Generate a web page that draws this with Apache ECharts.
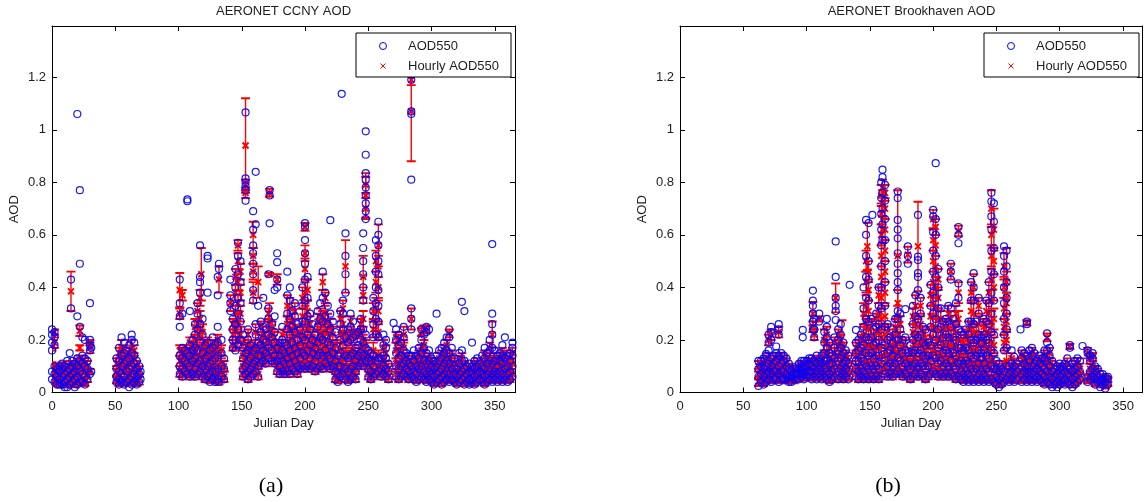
<!DOCTYPE html>
<html><head><meta charset="utf-8">
<script src="https://cdn.jsdelivr.net/npm/echarts@6/dist/echarts.min.js"></script>
<style>html,body{margin:0;padding:0;background:#fff}#c{width:1145px;height:502px}</style>
</head><body><div id="c"></div><script>
// ---------------- data ----------------
const panelTitles = ['AERONET CCNY AOD', 'AERONET Brookhaven AOD'];
const panelCaptions = ['(a)', '(b)'];
const seriesNames = ['AOD550', 'Hourly AOD550'];
const xAxisName = 'Julian Day';
const yAxisName = 'AOD';
const xMaxDays = [366, 365];

// observations: [day, aod, aod, ...]
const ccnyAOD = [
[0,0.05,0.08,0.16,0.19,0.22,0.24],[2,0.04,0.07,0.10,0.18,0.21,0.23],[4,0.03,0.06,0.09],[6,0.03,0.05,0.08,0.10],
[8,0.03,0.06,0.09,0.11],[10,0.02,0.04,0.07,0.10],[12,0.02,0.05,0.08,0.12],[14,0.03,0.06,0.09,0.15],[15,0.32,0.43],
[16,0.04,0.07,0.10,0.12],[18,0.02,0.05,0.08,0.11],[20,0.03,0.06,0.10,0.13,0.29,1.06],[22,0.04,0.08,0.12,0.25,0.77,0.49],
[24,0.04,0.07,0.11,0.14,0.21],[26,0.03,0.06,0.10,0.13,0.20],[28,0.05,0.09,0.12],[30,0.07,0.16,0.18,0.20,0.34],[31,0.08,0.17],
[51,0.04,0.06,0.09,0.13],[53,0.03,0.05,0.08,0.12,0.17],[55,0.04,0.07,0.10,0.14,0.21],[57,0.03,0.06,0.11,0.15,0.19],
[59,0.04,0.08,0.12,0.16],[61,0.02,0.05,0.09,0.13,0.18],[63,0.03,0.06,0.10,0.15,0.20,0.22],[65,0.04,0.07,0.11,0.14,0.19],
[67,0.03,0.06,0.09,0.12],[69,0.04,0.07,0.10],[70,0.05,0.08],
[101,0.07,0.10,0.14,0.25,0.29,0.34,0.43],[103,0.06,0.09,0.13,0.17,0.30],[105,0.08,0.12,0.16],[107,0.07,0.11,0.15,0.728,0.735],
[109,0.06,0.10,0.14,0.18,0.31],[111,0.07,0.12,0.16,0.20],[113,0.06,0.09,0.13,0.17,0.22,0.26],[115,0.07,0.11,0.16,0.24,0.30,0.34],
[117,0.08,0.12,0.19,0.26,0.38,0.42,0.44,0.56],[119,0.06,0.10,0.15,0.22,0.28],[121,0.05,0.09,0.13,0.18],
[123,0.06,0.10,0.14,0.19,0.51,0.52,0.38],[125,0.04,0.07,0.11,0.16],[127,0.05,0.08,0.12,0.17,0.21],[129,0.04,0.08,0.13,0.18],
[131,0.05,0.09,0.14,0.19,0.25,0.37,0.44],[132,0.47,0.49,0.04],[134,0.06,0.10,0.15,0.20],[136,0.05,0.09,0.13],
[141,0.31,0.34,0.37,0.43],[143,0.17,0.20,0.24,0.28],[145,0.16,0.20,0.26,0.33,0.40,0.47],[147,0.18,0.24,0.30,0.36,0.45,0.52,0.57],
[149,0.20,0.27,0.34,0.42,0.50],[151,0.06,0.09,0.13,0.17,0.22],[153,0.07,0.10,0.15,0.73,0.77,0.785,0.80,0.815,1.066],
[155,0.05,0.08,0.12,0.16,0.20,0.24],[157,0.06,0.09,0.13,0.18],[159,0.07,0.11,0.16,0.35,0.39,0.45,0.49,0.53,0.56,0.62,0.69],
[161,0.08,0.12,0.17,0.22,0.26,0.64,0.84],[163,0.06,0.10,0.14,0.19,0.33],[165,0.11,0.14,0.18,0.23,0.27],[167,0.12,0.16,0.20,0.25,0.36],
[169,0.11,0.15,0.19,0.24],[171,0.13,0.17,0.22,0.28,0.32,0.45],[172,0.644,0.75,0.77],[174,0.12,0.16,0.21,0.26],
[176,0.11,0.14,0.19,0.23,0.29,0.39],[178,0.08,0.12,0.17,0.40,0.43,0.496,0.53],[180,0.07,0.10,0.14,0.19],[182,0.08,0.12,0.16,0.20,0.25],
[184,0.07,0.11,0.15,0.19],[186,0.08,0.13,0.18,0.24,0.30,0.37,0.46],[188,0.07,0.11,0.16,0.22,0.28,0.35,0.40],[190,0.09,0.14,0.19,0.25,0.31],
[192,0.08,0.12,0.17,0.23,0.29,0.34],[194,0.07,0.10,0.15,0.20,0.26],[196,0.09,0.13,0.18,0.24],[198,0.10,0.15,0.21,0.27,0.33,0.40],
[200,0.09,0.14,0.20,0.27,0.35,0.43,0.49,0.53,0.58,0.63,0.645],[202,0.10,0.16,0.22,0.29,0.36,0.44],[204,0.09,0.13,0.18,0.24,0.30],
[206,0.10,0.15,0.20,0.26],[208,0.08,0.12,0.17,0.22],[210,0.09,0.14,0.19,0.25,0.31],[212,0.10,0.15,0.21,0.28,0.34],
[214,0.09,0.14,0.20,0.27,0.36,0.46],[216,0.11,0.16,0.22,0.29,0.38],[218,0.10,0.14,0.19,0.26,0.33],[220,0.09,0.13,0.18,0.24,0.30,0.656],
[222,0.10,0.15,0.21,0.27],[224,0.05,0.08,0.12,0.17,0.23],[226,0.04,0.07,0.10,0.14],[228,0.06,0.10,0.15,0.20,0.26,0.31],[229,1.137],
[230,0.07,0.12,0.18,0.24,0.30,0.35],[232,0.05,0.09,0.14,0.21,0.38,0.45,0.52,0.606],[234,0.04,0.08,0.13,0.19,0.24],
[236,0.05,0.09,0.14,0.20,0.25,0.30],[238,0.06,0.10,0.15,0.21,0.27],[240,0.05,0.08,0.12,0.17,0.22],[242,0.10,0.14,0.18,0.23],
[244,0.11,0.15,0.20,0.24,0.28],[246,0.10,0.14,0.19,0.24,0.35,0.40,0.45,0.50,0.55,0.606],
[248,0.12,0.17,0.22,0.66,0.69,0.72,0.75,0.78,0.81,0.835,0.905,0.994],[250,0.06,0.09,0.13,0.16],[252,0.05,0.08,0.12,0.15],
[254,0.06,0.10,0.14,0.21,0.26,0.31,0.36],[256,0.07,0.12,0.22,0.28,0.34,0.40,0.46,0.52,0.58],
[258,0.08,0.13,0.21,0.27,0.33,0.39,0.45,0.50,0.56,0.60,0.65],[260,0.06,0.09,0.13],[262,0.07,0.10,0.14,0.18,0.22],
[264,0.06,0.09,0.13,0.17,0.20],[266,0.05,0.08,0.11],[270,0.265],[272,0.06,0.10,0.15,0.20,0.24],[274,0.05,0.09,0.13,0.18,0.22],
[276,0.06,0.10,0.14,0.19],[278,0.07,0.11,0.16,0.21,0.25],[280,0.06,0.09,0.12,0.15],[282,0.05,0.08,0.11,0.14],
[284,0.06,0.10,0.14,0.24,0.28,0.32,0.81,1.06,1.07,1.19,1.21],[286,0.05,0.08,0.12,0.16],[288,0.04,0.07,0.10,0.14],
[290,0.05,0.09,0.13,0.17],[292,0.06,0.10,0.15,0.20,0.24],[294,0.05,0.08,0.12,0.17,0.22],[296,0.04,0.07,0.11,0.15,0.23,0.25],
[298,0.05,0.08,0.12,0.16,0.24],[300,0.04,0.07,0.10,0.13],[302,0.03,0.06,0.09,0.12],[304,0.04,0.07,0.10,0.14,0.30],
[306,0.05,0.08,0.12,0.16],[308,0.03,0.06,0.09,0.13,0.17],[310,0.04,0.07,0.11,0.15,0.19],[312,0.05,0.08,0.12,0.16,0.21],
[314,0.04,0.07,0.11,0.15,0.21,0.24],[316,0.05,0.09,0.13,0.17],[318,0.04,0.07,0.10,0.13],[320,0.03,0.06,0.09],
[322,0.04,0.07,0.11,0.15],[324,0.05,0.08,0.12,0.16,0.345],[326,0.03,0.06,0.09,0.12,0.31],[328,0.04,0.07,0.10],
[330,0.03,0.05,0.08,0.11],[332,0.04,0.07,0.10,0.19],[334,0.03,0.06,0.09,0.12],[336,0.04,0.07,0.10,0.13],[338,0.05,0.08,0.11],
[340,0.04,0.07,0.10,0.14],[342,0.03,0.06,0.09,0.13,0.17],[344,0.04,0.07,0.11,0.15],[346,0.05,0.08,0.12,0.16,0.20],
[348,0.04,0.07,0.11,0.17,0.22,0.26,0.30,0.565],[350,0.05,0.08,0.12,0.16],[352,0.04,0.07,0.10,0.14],[354,0.05,0.08,0.12,0.15],
[356,0.04,0.07,0.11,0.14,0.18],[358,0.05,0.09,0.13,0.21],[360,0.04,0.07,0.10,0.14],[362,0.05,0.08,0.12,0.15],[364,0.06,0.10,0.14,0.17,0.19]
];

// hourly means with error: [day, mean, err, mean, err, ...]
const ccnyHourly = [
[0,0.04,0.015,0.07,0.02,0.10,0.015,0.18,0.02,0.22,0.02],[2,0.05,0.02,0.08,0.02,0.19,0.02,0.23,0.01],[4,0.04,0.015,0.07,0.02,0.10,0.01],
[6,0.03,0.01,0.06,0.02,0.09,0.015],[8,0.04,0.015,0.07,0.02,0.10,0.015],[10,0.03,0.01,0.05,0.02,0.08,0.02],
[12,0.03,0.01,0.06,0.02,0.09,0.02],[14,0.04,0.015,0.07,0.02,0.10,0.02],[15,0.385,0.075],[16,0.04,0.015,0.08,0.02,0.11,0.01],
[18,0.03,0.01,0.06,0.02,0.09,0.02],[20,0.04,0.015,0.07,0.02,0.11,0.02],[22,0.05,0.02,0.09,0.02,0.12,0.02,0.17,0.01,0.235,0.02],
[24,0.05,0.02,0.08,0.02,0.12,0.02],[26,0.04,0.015,0.08,0.02,0.11,0.02],[28,0.06,0.02,0.10,0.02],[30,0.08,0.01,0.17,0.02,0.19,0.01],
[51,0.05,0.015,0.08,0.02,0.11,0.02],[53,0.04,0.015,0.07,0.02,0.11,0.02,0.15,0.02],[55,0.05,0.02,0.09,0.02,0.13,0.02,0.17,0.03],
[57,0.04,0.015,0.08,0.02,0.12,0.02,0.16,0.02],[59,0.05,0.02,0.09,0.02,0.13,0.02],[61,0.04,0.015,0.07,0.02,0.11,0.02,0.15,0.02],
[63,0.04,0.015,0.08,0.02,0.12,0.02,0.17,0.03],[65,0.05,0.02,0.09,0.02,0.13,0.02,0.16,0.02],[67,0.04,0.015,0.07,0.02,0.10,0.02],
[69,0.05,0.02,0.08,0.02],
[101,0.08,0.02,0.12,0.02,0.16,0.02,0.30,0.02,0.39,0.065],[103,0.07,0.02,0.11,0.02,0.15,0.02,0.37,0.02],[105,0.09,0.02,0.13,0.02,0.16,0.02],
[107,0.08,0.02,0.12,0.02,0.15,0.02],[109,0.07,0.02,0.11,0.02,0.15,0.02,0.19,0.02],[111,0.08,0.02,0.12,0.02,0.17,0.02],
[113,0.07,0.02,0.11,0.02,0.15,0.02,0.20,0.02,0.25,0.03],[115,0.08,0.02,0.12,0.02,0.17,0.03,0.24,0.03,0.31,0.03],
[117,0.09,0.02,0.14,0.03,0.21,0.03,0.28,0.03,0.36,0.03],[118,0.45,0.10],[119,0.07,0.02,0.11,0.02,0.16,0.03,0.23,0.03],
[121,0.06,0.02,0.10,0.02,0.14,0.02,0.18,0.02],[123,0.07,0.02,0.11,0.02,0.15,0.02,0.19,0.02],[125,0.05,0.015,0.08,0.02,0.12,0.02,0.16,0.02],
[127,0.06,0.02,0.09,0.02,0.13,0.02,0.18,0.02],[129,0.05,0.015,0.09,0.02,0.14,0.02,0.18,0.02],[131,0.06,0.02,0.10,0.02,0.15,0.02,0.20,0.02],
[132,0.43,0.05,0.04,0.01],[134,0.07,0.02,0.11,0.02,0.16,0.02],[136,0.06,0.02,0.10,0.02],[141,0.34,0.03],
[143,0.18,0.02,0.22,0.02,0.26,0.02],[145,0.18,0.02,0.23,0.03,0.30,0.03,0.38,0.03,0.44,0.03],
[147,0.20,0.03,0.27,0.03,0.34,0.03,0.42,0.03,0.50,0.03,0.56,0.02],[149,0.22,0.03,0.30,0.03,0.38,0.03,0.46,0.03],
[151,0.07,0.02,0.10,0.02,0.14,0.02,0.19,0.02],[153,0.08,0.02,0.12,0.02,0.16,0.02,0.76,0.02,0.79,0.02,0.94,0.18],
[155,0.06,0.02,0.09,0.02,0.13,0.02,0.18,0.02,0.22,0.02],[157,0.07,0.02,0.10,0.02,0.14,0.02,0.17,0.02],
[159,0.08,0.02,0.12,0.02,0.16,0.02,0.38,0.04,0.46,0.03,0.52,0.03,0.60,0.05],[161,0.09,0.02,0.13,0.02,0.18,0.02,0.23,0.03],
[163,0.07,0.02,0.11,0.02,0.15,0.02,0.42,0.06],[165,0.12,0.02,0.16,0.02,0.20,0.02,0.25,0.02],[167,0.13,0.02,0.17,0.02,0.22,0.03],
[169,0.12,0.02,0.16,0.02,0.21,0.02],[171,0.14,0.02,0.19,0.02,0.24,0.03,0.30,0.02],[172,0.76,0.015,0.45,0.005,0.27,0.07],
[174,0.13,0.02,0.17,0.02,0.22,0.02,0.25,0.02],[176,0.12,0.02,0.16,0.02,0.21,0.02],[178,0.09,0.02,0.13,0.02,0.17,0.02,0.43,0.02],
[180,0.08,0.02,0.11,0.02,0.15,0.02,0.18,0.02],[182,0.09,0.02,0.13,0.02,0.17,0.02,0.22,0.02],[184,0.08,0.02,0.12,0.02,0.16,0.02],
[186,0.09,0.02,0.14,0.02,0.19,0.03,0.26,0.03,0.33,0.04],[188,0.08,0.02,0.12,0.02,0.17,0.03,0.24,0.03,0.32,0.04],
[190,0.10,0.02,0.15,0.02,0.20,0.03,0.27,0.03],[192,0.09,0.02,0.13,0.02,0.18,0.03,0.25,0.03,0.31,0.03],
[194,0.08,0.02,0.11,0.02,0.16,0.02,0.22,0.03],[196,0.10,0.02,0.14,0.02,0.19,0.02,0.23,0.02],
[198,0.11,0.02,0.16,0.03,0.22,0.03,0.29,0.03,0.36,0.04],
[200,0.10,0.02,0.15,0.03,0.21,0.03,0.29,0.04,0.38,0.04,0.47,0.04,0.53,0.03,0.63,0.015],
[202,0.11,0.02,0.17,0.03,0.24,0.03,0.31,0.04,0.39,0.04],[204,0.10,0.02,0.14,0.02,0.19,0.03,0.26,0.03],[206,0.11,0.02,0.16,0.02,0.21,0.03],
[208,0.09,0.02,0.13,0.02,0.18,0.02],[210,0.10,0.02,0.15,0.02,0.20,0.03,0.27,0.03],[212,0.11,0.02,0.16,0.03,0.22,0.03,0.29,0.03],
[214,0.10,0.02,0.15,0.03,0.21,0.03,0.28,0.03,0.42,0.03],[216,0.12,0.02,0.17,0.03,0.23,0.03,0.30,0.03,0.36,0.02],
[218,0.11,0.02,0.15,0.02,0.20,0.03,0.27,0.03],[220,0.10,0.02,0.14,0.02,0.19,0.03,0.25,0.03],[222,0.11,0.02,0.16,0.02,0.22,0.03],
[224,0.06,0.02,0.09,0.02,0.13,0.02,0.18,0.02],[226,0.05,0.015,0.08,0.02,0.11,0.02],[228,0.07,0.02,0.11,0.02,0.16,0.03,0.22,0.03,0.28,0.03],
[230,0.08,0.02,0.13,0.02,0.19,0.03,0.26,0.03,0.32,0.03],[232,0.06,0.02,0.10,0.02,0.15,0.02,0.22,0.015,0.48,0.10],
[234,0.05,0.015,0.09,0.02,0.14,0.02,0.20,0.02],[236,0.06,0.02,0.10,0.02,0.15,0.02,0.225,0.015,0.27,0.02],
[238,0.07,0.02,0.11,0.02,0.16,0.02,0.21,0.02],[240,0.06,0.02,0.09,0.02,0.13,0.02,0.225,0.015],[242,0.11,0.02,0.15,0.02,0.22,0.015],
[244,0.12,0.02,0.16,0.02,0.225,0.015,0.26,0.02],[246,0.11,0.02,0.15,0.02,0.20,0.02,0.28,0.03,0.37,0.03,0.44,0.08],
[248,0.13,0.02,0.18,0.02,0.70,0.04,0.75,0.085,0.79,0.03],[250,0.07,0.02,0.10,0.02,0.14,0.02],[252,0.06,0.02,0.09,0.02,0.13,0.02],
[254,0.07,0.02,0.11,0.02,0.16,0.03,0.24,0.03,0.31,0.03],[256,0.08,0.02,0.13,0.02,0.24,0.03,0.32,0.04,0.42,0.04,0.50,0.04],
[258,0.09,0.02,0.14,0.02,0.23,0.03,0.31,0.04,0.40,0.04,0.48,0.04,0.56,0.08],[260,0.07,0.02,0.10,0.02],
[262,0.08,0.02,0.12,0.02,0.17,0.03],[264,0.07,0.02,0.10,0.02,0.15,0.03],[266,0.06,0.02,0.09,0.02],
[272,0.07,0.02,0.11,0.02,0.16,0.03,0.21,0.02],[274,0.06,0.02,0.10,0.02,0.15,0.02,0.20,0.02],[276,0.07,0.02,0.11,0.02,0.16,0.02],
[278,0.08,0.02,0.12,0.02,0.17,0.03,0.22,0.03],[280,0.07,0.02,0.10,0.02,0.13,0.02],[282,0.06,0.02,0.09,0.02,0.12,0.02],
[284,0.07,0.02,0.11,0.02,0.28,0.04,1.07,0.19,1.19,0.02],[286,0.06,0.02,0.09,0.02,0.13,0.02],[288,0.05,0.015,0.08,0.02,0.12,0.02],
[290,0.06,0.02,0.10,0.02,0.14,0.02],[292,0.07,0.02,0.11,0.02,0.16,0.02,0.23,0.015],[294,0.06,0.02,0.09,0.02,0.13,0.02,0.18,0.02,0.24,0.015],
[296,0.05,0.015,0.08,0.02,0.12,0.02,0.24,0.015],[298,0.06,0.02,0.09,0.02,0.13,0.02],[300,0.05,0.015,0.08,0.02,0.11,0.02],
[302,0.04,0.015,0.07,0.02,0.10,0.02],[304,0.05,0.015,0.08,0.02,0.11,0.02],[306,0.06,0.02,0.09,0.02,0.13,0.02],
[308,0.04,0.015,0.07,0.02,0.10,0.02,0.14,0.02],[310,0.05,0.015,0.08,0.02,0.12,0.02,0.16,0.02],[312,0.06,0.02,0.09,0.02,0.13,0.02,0.18,0.02],
[314,0.05,0.015,0.08,0.02,0.12,0.02,0.225,0.015],[316,0.06,0.02,0.10,0.02,0.14,0.02],[318,0.05,0.015,0.08,0.02,0.11,0.02],
[320,0.04,0.015,0.07,0.02],[322,0.05,0.015,0.08,0.02,0.12,0.02],[324,0.06,0.02,0.09,0.02,0.13,0.02],[326,0.04,0.015,0.07,0.02,0.10,0.02],
[328,0.05,0.015,0.08,0.02],[330,0.04,0.015,0.06,0.02,0.09,0.02],[332,0.05,0.015,0.08,0.02],[334,0.04,0.015,0.07,0.02,0.10,0.02],
[336,0.05,0.015,0.08,0.02,0.11,0.02],[338,0.06,0.02,0.09,0.02],[340,0.05,0.015,0.08,0.02,0.11,0.02],
[342,0.04,0.015,0.07,0.02,0.10,0.02,0.14,0.02],[344,0.05,0.015,0.08,0.02,0.12,0.02],[346,0.06,0.02,0.09,0.02,0.13,0.02,0.17,0.02],
[348,0.05,0.015,0.08,0.02,0.12,0.02,0.22,0.05],[350,0.06,0.02,0.09,0.02,0.13,0.02],[352,0.05,0.015,0.08,0.02,0.11,0.02],
[354,0.06,0.02,0.09,0.02,0.13,0.02],[356,0.05,0.015,0.08,0.02,0.12,0.02,0.15,0.02],[358,0.06,0.02,0.10,0.02,0.14,0.02],
[360,0.05,0.015,0.08,0.02,0.11,0.02],[362,0.06,0.02,0.09,0.02,0.13,0.02],[364,0.07,0.02,0.11,0.02,0.15,0.02]
];

const bnlAOD = [
[62,0.025,0.06,0.09,0.12],[64,0.04,0.07,0.10,0.12],[66,0.03,0.06,0.09,0.13],[68,0.04,0.07,0.10,0.14,0.147],
[70,0.05,0.08,0.11,0.16,0.19,0.22],[72,0.04,0.07,0.10,0.13,0.20,0.23,0.25],[74,0.05,0.08,0.11,0.14],[76,0.05,0.08,0.12,0.15,0.175],
[78,0.04,0.07,0.10,0.14,0.22,0.24,0.26],[80,0.05,0.08,0.11,0.15],[82,0.05,0.08,0.12,0.14],[84,0.05,0.07,0.10,0.13],
[86,0.04,0.06,0.09,0.11],[88,0.04,0.06,0.08],[90,0.05,0.07,0.09],[92,0.05,0.07,0.09,0.10],[94,0.05,0.07,0.09,0.11],
[96,0.06,0.08,0.10,0.12],[97,0.21,0.238],[98,0.05,0.07,0.09,0.12],[100,0.06,0.08,0.10,0.12],[102,0.06,0.08,0.11,0.13],
[104,0.05,0.08,0.10,0.13],[105,0.24,0.27,0.30,0.33,0.35,0.388],[106,0.06,0.09,0.12,0.21,0.24,0.28],[108,0.05,0.08,0.11,0.14],
[110,0.06,0.09,0.12,0.27,0.30],[112,0.05,0.08,0.11,0.14],[114,0.06,0.09,0.12,0.15,0.19,0.23],[116,0.05,0.08,0.12,0.17,0.21,0.25,0.28],
[118,0.04,0.07,0.11,0.15,0.19],[120,0.05,0.08,0.11,0.14],[122,0.06,0.09,0.13,0.17,0.21],[123,0.276,0.31,0.33,0.36,0.44,0.575],
[125,0.05,0.08,0.12,0.16,0.20,0.24],[127,0.06,0.09,0.13,0.17,0.22,0.26],[129,0.05,0.08,0.11,0.15,0.19],[131,0.06,0.09,0.12,0.16],
[133,0.05,0.08,0.11,0.14],[134,0.41],[139,0.06,0.09,0.12,0.15,0.19,0.238],[141,0.05,0.08,0.12,0.16,0.20],[143,0.06,0.09,0.13,0.17,0.22],
[145,0.05,0.08,0.12,0.18,0.25,0.32,0.40],[147,0.06,0.10,0.15,0.21,0.28,0.36,0.44,0.52,0.60,0.657],
[149,0.05,0.09,0.14,0.20,0.27,0.35,0.43,0.50,0.645],[151,0.06,0.10,0.15,0.21,0.28],[152,0.676],[153,0.05,0.09,0.13,0.18,0.24],
[155,0.06,0.10,0.14,0.19,0.25,0.30],[157,0.05,0.09,0.14,0.20,0.26,0.33,0.40],
[159,0.06,0.11,0.17,0.24,0.32,0.40,0.48,0.56,0.62,0.68,0.74,0.80],[160,0.848,0.82,0.76,0.70,0.64,0.58],
[162,0.07,0.12,0.18,0.25,0.33,0.42,0.50,0.58,0.66,0.73,0.79],[164,0.06,0.10,0.15,0.20,0.26],[166,0.07,0.11,0.16,0.21],
[168,0.06,0.10,0.14,0.19,0.24],[170,0.07,0.11,0.16,0.22,0.28],
[172,0.08,0.13,0.20,0.28,0.31,0.39,0.42,0.454,0.49,0.53,0.587,0.62,0.657,0.74,0.765],[174,0.07,0.12,0.18,0.24,0.30],
[176,0.06,0.10,0.15,0.20],[178,0.07,0.11,0.16,0.21,0.317],[180,0.06,0.10,0.15,0.49,0.52,0.556],[182,0.05,0.09,0.13,0.18],
[184,0.06,0.10,0.15,0.20,0.26,0.33],[186,0.07,0.11,0.16,0.22,0.29,0.37],[188,0.06,0.10,0.15,0.21,0.28,0.39,0.44,0.454,0.504,0.517,0.676],
[190,0.07,0.11,0.16,0.22,0.30,0.36],[192,0.06,0.10,0.14,0.19,0.25],[194,0.05,0.09,0.13,0.18,0.24],[196,0.06,0.10,0.14,0.19],
[198,0.07,0.12,0.18,0.25,0.33,0.41],[200,0.08,0.14,0.22,0.30,0.38,0.46,0.54,0.61,0.67,0.695],
[202,0.07,0.13,0.20,0.28,0.36,0.44,0.52,0.60,0.66,0.873],[204,0.06,0.11,0.17,0.24,0.32,0.40,0.47],[206,0.07,0.12,0.18,0.25,0.32],
[208,0.06,0.10,0.15,0.21,0.27],[210,0.07,0.11,0.16,0.22,0.28],[212,0.06,0.10,0.15,0.21,0.27,0.33],[214,0.07,0.12,0.18,0.25,0.32,0.43,0.46,0.49],
[216,0.06,0.10,0.15,0.21,0.28],[218,0.05,0.09,0.14,0.20,0.26,0.34],[220,0.06,0.11,0.17,0.24,0.36,0.415,0.568,0.60,0.63],
[222,0.05,0.08,0.12,0.17,0.23],[224,0.04,0.07,0.11,0.16,0.22],[226,0.05,0.08,0.12,0.17,0.24],[228,0.04,0.07,0.11,0.16,0.22,0.27],
[230,0.05,0.09,0.14,0.20,0.27,0.35,0.42],[232,0.04,0.08,0.13,0.19,0.26,0.35,0.40,0.454],[234,0.05,0.09,0.14,0.20,0.27],
[236,0.04,0.07,0.11,0.16,0.22,0.30,0.36],[238,0.05,0.08,0.13,0.15,0.19,0.21],[240,0.04,0.07,0.11,0.16,0.22,0.28],
[242,0.05,0.09,0.14,0.20,0.27,0.35],[244,0.04,0.08,0.13,0.19,0.26,0.34,0.42],
[246,0.05,0.10,0.16,0.23,0.30,0.38,0.46,0.54,0.62,0.67,0.727,0.76],[248,0.04,0.09,0.15,0.22,0.35,0.45,0.55,0.65,0.72],
[250,0.03,0.06,0.09,0.12],[252,0.02,0.05,0.08,0.11],[254,0.03,0.06,0.09],[256,0.04,0.08,0.16,0.22,0.28,0.34,0.40,0.46,0.52,0.556],
[258,0.05,0.10,0.17,0.24,0.30,0.36,0.42,0.48,0.54],[260,0.04,0.07,0.10],[262,0.05,0.08,0.11,0.16],[264,0.04,0.07,0.10,0.136],
[266,0.05,0.08,0.11],[269,0.24],[270,0.04,0.07,0.10,0.13,0.16],[272,0.05,0.08,0.11,0.15],[274,0.04,0.07,0.10,0.14,0.26,0.27],
[276,0.05,0.08,0.12,0.16],[278,0.04,0.07,0.10,0.14,0.17],[280,0.05,0.08,0.11,0.15],[282,0.04,0.06,0.09,0.12],[284,0.05,0.08,0.11,0.14],
[286,0.04,0.07,0.10,0.13],[288,0.03,0.06,0.09,0.13,0.16],[290,0.04,0.08,0.12,0.16,0.19,0.225],[292,0.03,0.06,0.10,0.14,0.17],
[294,0.02,0.05,0.08,0.12],[296,0.03,0.06,0.09],[298,0.02,0.04,0.07,0.10],[300,0.03,0.06,0.09,0.11],[302,0.04,0.07,0.10],
[304,0.03,0.05,0.08,0.11],[306,0.04,0.07,0.10,0.13],[308,0.03,0.06,0.09,0.17,0.18],[310,0.02,0.05,0.08,0.11],[312,0.03,0.06,0.09,0.12],
[314,0.04,0.07,0.10,0.13],[316,0.05,0.08,0.12],[318,0.177],[322,0.04,0.06,0.15,0.16],[324,0.05,0.08,0.12,0.14],[326,0.06,0.09,0.13,0.15],
[328,0.03,0.05,0.08,0.10],[330,0.04,0.06,0.09],[332,0.02,0.04,0.07],[334,0.03,0.05,0.07],[336,0.015,0.04,0.06],[338,0.03,0.05,0.06]
];

const bnlHourly = [
[62,0.04,0.015,0.07,0.02,0.10,0.02],[64,0.05,0.015,0.08,0.02,0.11,0.01],[66,0.04,0.015,0.07,0.02,0.11,0.02],
[68,0.05,0.015,0.08,0.02,0.12,0.02],[70,0.06,0.02,0.09,0.02,0.13,0.02,0.20,0.02],[72,0.05,0.015,0.08,0.02,0.11,0.02,0.22,0.02],
[74,0.06,0.02,0.09,0.02,0.12,0.02],[76,0.06,0.02,0.09,0.02,0.13,0.02],[78,0.05,0.015,0.08,0.02,0.12,0.02,0.23,0.02],
[80,0.06,0.02,0.09,0.02,0.13,0.02],[82,0.06,0.02,0.09,0.02,0.12,0.02],[84,0.05,0.015,0.08,0.02,0.11,0.02],
[86,0.05,0.015,0.07,0.02,0.10,0.01],[88,0.05,0.015,0.07,0.015],[90,0.05,0.015,0.08,0.01],[92,0.06,0.015,0.08,0.015],
[94,0.06,0.015,0.09,0.015],[96,0.07,0.015,0.09,0.02,0.11,0.01],[98,0.06,0.015,0.08,0.02,0.11,0.01],[100,0.07,0.015,0.09,0.02,0.11,0.01],
[102,0.07,0.015,0.10,0.02,0.12,0.01],[104,0.06,0.015,0.09,0.02,0.12,0.01],[105,0.30,0.045,0.25,0.02],[106,0.07,0.02,0.10,0.02,0.22,0.02],
[108,0.06,0.015,0.09,0.02,0.12,0.02],[110,0.07,0.02,0.10,0.02,0.28,0.01],[112,0.06,0.015,0.09,0.02,0.12,0.02],
[114,0.07,0.02,0.10,0.02,0.14,0.02,0.20,0.04],[116,0.06,0.02,0.10,0.02,0.15,0.03,0.22,0.03],[118,0.05,0.015,0.09,0.02,0.13,0.02,0.17,0.02],
[120,0.06,0.015,0.09,0.02,0.12,0.02],[122,0.07,0.02,0.11,0.02,0.15,0.02,0.19,0.02],[123,0.36,0.055],
[125,0.06,0.02,0.10,0.02,0.14,0.02,0.18,0.02,0.22,0.02],[127,0.07,0.02,0.11,0.02,0.15,0.02,0.20,0.02],[128,0.18,0.095],
[129,0.06,0.02,0.10,0.02,0.13,0.02,0.17,0.02],[131,0.07,0.02,0.10,0.02,0.14,0.02],[133,0.06,0.015,0.09,0.02,0.12,0.02],
[139,0.07,0.02,0.10,0.02,0.14,0.02,0.17,0.02],[141,0.06,0.02,0.10,0.02,0.14,0.02,0.18,0.02],[143,0.07,0.02,0.11,0.02,0.15,0.02,0.20,0.02],
[145,0.06,0.02,0.10,0.02,0.15,0.03,0.22,0.03,0.30,0.04],[147,0.07,0.02,0.12,0.03,0.18,0.03,0.25,0.03,0.33,0.04,0.42,0.04,0.50,0.04],
[148,0.556,0.09],[149,0.06,0.02,0.11,0.03,0.17,0.03,0.24,0.03,0.31,0.04,0.39,0.04,0.46,0.04],
[151,0.07,0.02,0.12,0.02,0.18,0.03,0.25,0.03],[153,0.06,0.02,0.11,0.02,0.16,0.02,0.21,0.03],
[155,0.07,0.02,0.12,0.02,0.17,0.03,0.23,0.03,0.28,0.02],[157,0.06,0.02,0.11,0.02,0.17,0.03,0.23,0.03,0.30,0.04,0.37,0.03],
[159,0.08,0.02,0.14,0.03,0.21,0.03,0.28,0.04,0.36,0.04,0.44,0.04,0.52,0.04,0.60,0.04,0.68,0.04,0.75,0.04],
[160,0.62,0.05,0.72,0.05,0.78,0.03],
[162,0.09,0.02,0.15,0.03,0.22,0.04,0.29,0.04,0.38,0.04,0.46,0.04,0.54,0.04,0.62,0.04,0.70,0.04,0.76,0.03],
[164,0.07,0.02,0.12,0.02,0.17,0.03,0.23,0.03],[166,0.08,0.02,0.13,0.02,0.18,0.03],[168,0.07,0.02,0.12,0.02,0.16,0.02,0.21,0.03],
[170,0.08,0.02,0.13,0.02,0.19,0.03,0.25,0.03],[172,0.09,0.02,0.15,0.03,0.22,0.03,0.29,0.04,0.34,0.05,0.52,0.25],
[174,0.08,0.02,0.14,0.02,0.20,0.03,0.26,0.03],[176,0.07,0.02,0.12,0.02,0.17,0.03],[178,0.08,0.02,0.13,0.02,0.18,0.03],
[180,0.07,0.02,0.12,0.02,0.525,0.03],[182,0.06,0.02,0.10,0.02,0.15,0.02],[184,0.07,0.02,0.12,0.02,0.17,0.03,0.23,0.03,0.29,0.03],
[186,0.08,0.02,0.13,0.02,0.19,0.03,0.26,0.03,0.33,0.04],[188,0.07,0.02,0.12,0.02,0.18,0.03,0.25,0.03,0.556,0.17],
[190,0.08,0.02,0.13,0.02,0.19,0.03,0.26,0.03,0.33,0.03],[192,0.07,0.02,0.12,0.02,0.17,0.03,0.22,0.03],
[194,0.06,0.02,0.11,0.02,0.16,0.03,0.21,0.03],[196,0.07,0.02,0.12,0.02,0.17,0.02],[198,0.08,0.02,0.14,0.03,0.21,0.03,0.29,0.04,0.37,0.04],
[200,0.09,0.02,0.16,0.03,0.25,0.04,0.34,0.04,0.42,0.04,0.50,0.04,0.58,0.04,0.66,0.035],
[202,0.08,0.02,0.15,0.03,0.24,0.04,0.32,0.04,0.40,0.04,0.48,0.04,0.56,0.04,0.63,0.03],
[204,0.07,0.02,0.13,0.03,0.20,0.03,0.28,0.04,0.36,0.04,0.43,0.04],[206,0.08,0.02,0.14,0.03,0.21,0.03,0.28,0.03],
[208,0.07,0.02,0.12,0.02,0.18,0.03,0.24,0.03],[210,0.08,0.02,0.13,0.02,0.19,0.03,0.25,0.03],
[212,0.07,0.02,0.12,0.02,0.18,0.03,0.24,0.03,0.30,0.03],[214,0.08,0.02,0.14,0.03,0.21,0.03,0.28,0.03,0.46,0.03],
[216,0.07,0.02,0.12,0.02,0.18,0.03,0.24,0.03],[218,0.06,0.02,0.11,0.02,0.17,0.03,0.23,0.03,0.30,0.03],
[220,0.07,0.02,0.13,0.03,0.20,0.03,0.28,0.03,0.38,0.04,0.615,0.02],[222,0.06,0.02,0.10,0.02,0.14,0.02,0.20,0.03],
[224,0.05,0.015,0.09,0.02,0.13,0.02,0.19,0.03],[226,0.06,0.02,0.10,0.02,0.15,0.03,0.21,0.03],
[228,0.05,0.015,0.09,0.02,0.13,0.02,0.19,0.03,0.24,0.03],[230,0.06,0.02,0.11,0.02,0.17,0.03,0.24,0.03,0.31,0.04,0.38,0.04],
[232,0.05,0.015,0.10,0.02,0.16,0.03,0.22,0.03,0.30,0.04,0.40,0.05],[234,0.06,0.02,0.11,0.02,0.17,0.03,0.23,0.03],
[236,0.05,0.015,0.09,0.02,0.13,0.02,0.19,0.03,0.26,0.03,0.33,0.03],[238,0.06,0.02,0.10,0.02,0.18,0.03],
[240,0.05,0.015,0.09,0.02,0.13,0.02,0.19,0.03,0.25,0.03],[242,0.06,0.02,0.11,0.02,0.17,0.03,0.23,0.03,0.31,0.04],
[244,0.05,0.015,0.10,0.02,0.16,0.03,0.22,0.03,0.30,0.04,0.38,0.04],
[246,0.06,0.02,0.12,0.03,0.19,0.03,0.27,0.04,0.35,0.04,0.43,0.04,0.52,0.04,0.60,0.04,0.70,0.07],
[248,0.05,0.015,0.11,0.03,0.18,0.03,0.28,0.04,0.40,0.05,0.50,0.05,0.62,0.08],[250,0.04,0.015,0.07,0.02,0.10,0.02],
[252,0.03,0.01,0.06,0.02,0.09,0.02],[254,0.04,0.015,0.07,0.02],[256,0.05,0.015,0.10,0.02,0.19,0.03,0.25,0.03,0.32,0.04,0.40,0.04,0.48,0.05],
[258,0.06,0.02,0.12,0.03,0.20,0.03,0.27,0.03,0.34,0.04,0.42,0.04,0.36,0.19],[260,0.05,0.015,0.08,0.02],
[262,0.06,0.02,0.09,0.02,0.13,0.02],[264,0.05,0.015,0.08,0.02,0.11,0.02],[266,0.06,0.02,0.09,0.02],
[270,0.05,0.015,0.08,0.02,0.11,0.02,0.14,0.02],[272,0.06,0.02,0.09,0.02,0.13,0.02],[274,0.05,0.015,0.08,0.02,0.12,0.02,0.265,0.01],
[276,0.06,0.02,0.09,0.02,0.13,0.02],[278,0.05,0.015,0.08,0.02,0.12,0.02,0.15,0.02],[280,0.06,0.02,0.09,0.02,0.13,0.02],
[282,0.05,0.015,0.07,0.02,0.10,0.02],[284,0.06,0.02,0.09,0.02,0.12,0.02],[286,0.05,0.015,0.08,0.02,0.11,0.02],
[288,0.04,0.015,0.07,0.02,0.11,0.02,0.14,0.02],[290,0.05,0.015,0.09,0.02,0.13,0.02,0.21,0.015],[292,0.04,0.015,0.07,0.02,0.11,0.02,0.15,0.02],
[294,0.03,0.01,0.06,0.02,0.10,0.02],[296,0.04,0.015,0.07,0.02],[298,0.03,0.01,0.05,0.015,0.08,0.02],[300,0.04,0.015,0.07,0.02,0.10,0.01],
[302,0.05,0.015,0.08,0.02],[304,0.04,0.015,0.06,0.015,0.09,0.02],[306,0.05,0.015,0.08,0.02,0.11,0.02],[308,0.04,0.015,0.07,0.02,0.175,0.01],
[310,0.03,0.01,0.06,0.02,0.09,0.02],[312,0.04,0.015,0.07,0.02,0.10,0.02],[314,0.05,0.015,0.08,0.02,0.11,0.02],[316,0.06,0.015,0.09,0.02],
[322,0.05,0.015,0.15,0.02],[324,0.06,0.02,0.09,0.02,0.13,0.02],[326,0.07,0.02,0.10,0.02,0.14,0.01],[328,0.04,0.015,0.06,0.02,0.09,0.01],
[330,0.05,0.015,0.07,0.02],[332,0.03,0.01,0.05,0.015],[334,0.04,0.015,0.06,0.01],[336,0.025,0.01,0.05,0.015],[338,0.04,0.015,0.05,0.01]
];

// ---------------- helpers ----------------
function obsPoints(rows) {
  const out = [];
  rows.forEach(r => { for (let i = 1; i < r.length; i++) out.push([r[0], r[i]]); });
  return out;
}
function hourlyPoints(rows) {
  const out = [];
  rows.forEach(r => { for (let i = 1; i + 1 < r.length; i += 2) out.push([r[0], r[i], r[i + 1]]); });
  return out;
}
const BLUE = '#0000ff', RED = '#ff0000', TXT = '#1e1e1e', FONT = '"Liberation Sans", Arial, Helvetica, sans-serif';

function renderHourly(params, api) {
  const x = api.value(0), m = api.value(1), e = api.value(2);
  const c = api.coord([x, m]);
  const hi = api.coord([x, m + e]);
  const lo = api.coord([x, m - e]);
  const cap = 4.5, s = 3;
  const st = { stroke: RED, lineWidth: 1.9, fill: null };
  const stBar = { stroke: RED, lineWidth: 1.4, fill: null };
  return {
    type: 'group',
    children: [
      { type: 'line', shape: { x1: c[0], y1: hi[1], x2: c[0], y2: lo[1] }, style: stBar },
      { type: 'line', shape: { x1: c[0] - cap, y1: hi[1], x2: c[0] + cap, y2: hi[1] }, style: st },
      { type: 'line', shape: { x1: c[0] - cap, y1: lo[1], x2: c[0] + cap, y2: lo[1] }, style: st },
      { type: 'line', shape: { x1: c[0] - s, y1: c[1] - s, x2: c[0] + s, y2: c[1] + s }, style: st },
      { type: 'line', shape: { x1: c[0] - s, y1: c[1] + s, x2: c[0] + s, y2: c[1] - s }, style: st }
    ]
  };
}

// ---------------- layout ----------------
const gridLeft = [52, 680];
const gridTop = 26, gridHeight = 366.5, gridWidth = 463;
const yMax = 1.395;

const grids = [], xAxes = [], yAxes = [], titles = [], series = [], graphics = [];
const dataSets = [[ccnyAOD, ccnyHourly], [bnlAOD, bnlHourly]];

for (let p = 0; p < 2; p++) {
  grids.push({ left: gridLeft[p], top: gridTop, width: gridWidth, height: gridHeight, show: false });
  const common = {
    type: 'value', gridIndex: p, min: 0,
    axisLine: { show: true, onZero: false, lineStyle: { color: '#000', width: 1 } },
    axisTick: { show: true, inside: true, length: 5, lineStyle: { color: '#000', width: 1 } },
    splitLine: { show: false }
  };
  xAxes.push(Object.assign({}, common, {
    position: 'bottom', max: xMaxDays[p], interval: 50,
    axisLabel: { show: true, margin: 7, fontSize: 13, color: TXT, fontFamily: FONT,
      formatter: v => (v % 50 === 0 ? String(v) : '') },
    name: xAxisName, nameLocation: 'middle', nameGap: 24,
    nameTextStyle: { fontSize: 13, color: TXT, fontFamily: FONT }
  }));
  xAxes.push(Object.assign({}, common, {
    position: 'top', max: xMaxDays[p], interval: 50, axisLabel: { show: false }
  }));
  yAxes.push(Object.assign({}, common, {
    position: 'left', max: yMax, interval: 0.2,
    axisLabel: { show: true, margin: 6, fontSize: 13, color: TXT, fontFamily: FONT,
      formatter: v => (v > 1.3 ? '' : String(Math.round(v * 10) / 10)) },
    name: yAxisName, nameLocation: 'middle', nameGap: 31, nameRotate: 90,
    nameTextStyle: { fontSize: 13, color: TXT, fontFamily: FONT }
  }));
  yAxes.push(Object.assign({}, common, {
    position: 'right', max: yMax, interval: 0.2, axisLabel: { show: false }
  }));

  titles.push({
    text: panelTitles[p], left: gridLeft[p] + gridWidth / 2, top: 5, textAlign: 'center', padding: 0,
    textStyle: { fontSize: 13, fontWeight: 'normal', color: TXT, fontFamily: FONT }
  });

  series.push({
    name: seriesNames[0], type: 'scatter', xAxisIndex: p * 2, yAxisIndex: p * 2,
    data: obsPoints(dataSets[p][0]), symbol: 'circle', symbolSize: 7, large: false,
    itemStyle: { color: 'rgba(0,0,0,0)', borderColor: BLUE, borderWidth: 1.2, opacity: 0.9 },
    emphasis: { disabled: true }, silent: true
  });
  series.push({
    name: seriesNames[1], type: 'custom', xAxisIndex: p * 2, yAxisIndex: p * 2,
    data: hourlyPoints(dataSets[p][1]), renderItem: renderHourly,
    encode: { x: 0, y: 1 }, silent: true, clip: true
  });

  // legend box (top-right inside axes)
  const bx = gridLeft[p] + gridWidth - 4 - 155, by = 33;
  graphics.push({ type: 'rect', z: 100, shape: { x: bx, y: by, width: 155, height: 44 },
    style: { fill: '#fff', stroke: '#000', lineWidth: 1 } });
  graphics.push({ type: 'circle', z: 101, shape: { cx: bx + 27, cy: by + 13, r: 3.5 },
    style: { fill: null, stroke: BLUE, lineWidth: 1 } });
  graphics.push({ type: 'line', z: 101, shape: { x1: bx + 24.5, y1: by + 30.5, x2: bx + 29.5, y2: by + 35.5 },
    style: { stroke: RED, lineWidth: 1 } });
  graphics.push({ type: 'line', z: 101, shape: { x1: bx + 24.5, y1: by + 35.5, x2: bx + 29.5, y2: by + 30.5 },
    style: { stroke: RED, lineWidth: 1 } });
  graphics.push({ type: 'text', z: 101, x: bx + 52, y: by + 13,
    style: { text: seriesNames[0], font: '13px ' + FONT, fill: TXT, textVerticalAlign: 'middle', verticalAlign: 'middle' } });
  graphics.push({ type: 'text', z: 101, x: bx + 52, y: by + 33,
    style: { text: seriesNames[1], font: '13px ' + FONT, fill: TXT, textVerticalAlign: 'middle', verticalAlign: 'middle' } });
}
// sub-figure captions
const capX = [271, 888];
for (let p = 0; p < 2; p++) {
  graphics.push({ type: 'text', z: 101, x: capX[p], y: 486,
    style: { text: panelCaptions[p], font: '22px "Liberation Serif", "DejaVu Serif", serif', fill: '#000',
      textAlign: 'center', align: 'center', textVerticalAlign: 'middle', verticalAlign: 'middle' } });
}

const chart = echarts.init(document.getElementById('c'), null, { renderer: 'canvas' });
chart.setOption({
  backgroundColor: '#fff',
  animation: false,
  title: titles,
  grid: grids,
  xAxis: xAxes,
  yAxis: yAxes,
  series: series,
  graphic: { elements: graphics }
});
</script></body></html>
